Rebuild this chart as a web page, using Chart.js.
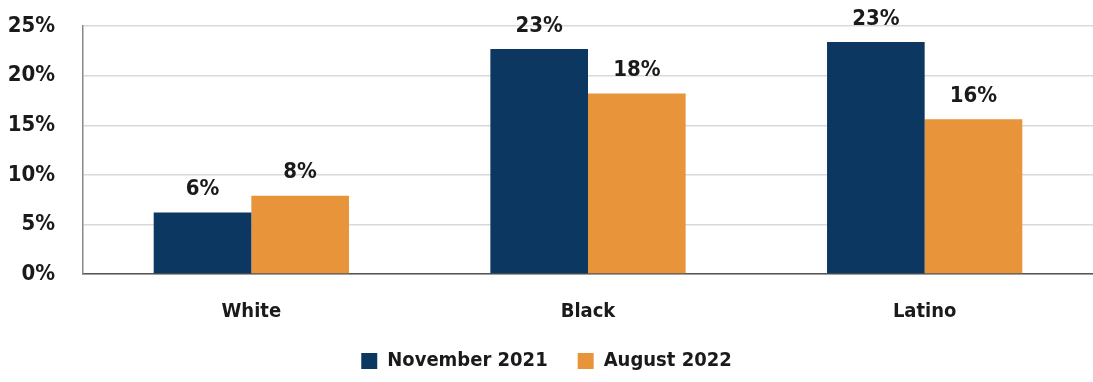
<!DOCTYPE html>
<html>
<head>
<meta charset="utf-8">
<script src="https://cdn.jsdelivr.net/npm/chart.js@4"></script>
<style>
  html, body { margin: 0; padding: 0; background: #fff; overflow: hidden; }
  /* canvas starts above the window: the y tick padding leaves an empty
     band at the top which is pushed off-screen */
  #wrap { position: absolute; left: 0; top: -15px; width: 1093px; height: 396px; }
</style>
</head>
<body>
<div id="wrap"><canvas id="barChart"></canvas></div>
<script>
const categories = ['White', 'Black', 'Latino'];
const nov2021 = [6.2, 22.7, 23.4];
const aug2022 = [7.9, 18.2, 15.6];
const tickValues = [0, 5, 10, 15, 20, 25];

const FONT = '"Liberation Sans Narrow", "DejaVu Sans Condensed", "Roboto", sans-serif';

// draws rounded % above each bar
const barLabels = {
    id: 'barLabels',
    afterDatasetsDraw(chart) {
        const ctx = chart.ctx;
        ctx.save();
        ctx.font = 'bold 22px ' + FONT;
        ctx.fillStyle = '#1a1a1a';
        ctx.textAlign = 'center';
        ctx.textBaseline = 'bottom';
        chart.data.datasets.forEach((ds, i) => {
            chart.getDatasetMeta(i).data.forEach((bar, j) => {
                ctx.fillText(Math.round(ds.data[j]) + '%', bar.x, bar.y - 12);
            });
        });
        ctx.restore();
    }
};

const data = {
    labels: categories,
    datasets: [{
        label: 'November 2021',
        backgroundColor: '#0b3761',
        data: nov2021,
    }, {
        label: 'August 2022',
        backgroundColor: '#e8943a',
        data: aug2022,
    }]
};

const config = {
    type: 'bar',
    data: data,
    options: {
        responsive: true,
        maintainAspectRatio: false,
        animation: false,
        layout: { padding: 0 },
        categoryPercentage: 0.58,
        barPercentage: 1.0,
        scales: {
            x: {
                grid: { display: false },
                border: { color: '#555', width: 1.5 },
                afterFit: (axis) => { axis.height = 47; },
                ticks: {
                    color: '#1a1a1a',
                    font: { family: FONT, size: 20, weight: 'bold' },
                    padding: 18,
                },
            },
            y: {
                min: 0,
                max: 25,
                afterBuildTicks: (axis) => { axis.ticks = tickValues.map(v => ({ value: v })); },
                afterFit: (axis) => { axis.width = 83; },
                grid: { color: '#d9d9d9', lineWidth: 1.5, drawTicks: false },
                border: { color: '#888', width: 1.5 },
                ticks: {
                    color: '#1a1a1a',
                    font: { family: FONT, size: 22, weight: 'bold' },
                    padding: 28,
                    callback: (v) => v + '%',
                },
            }
        },
        plugins: {
            legend: {
                position: 'bottom',
                labels: {
                    color: '#1a1a1a',
                    font: { family: FONT, size: 20, weight: 'bold' },
                    boxWidth: 16,
                    boxHeight: 16,
                    padding: 30,
                },
            },
            tooltip: { enabled: false },
        },
    },
    plugins: [barLabels],
};

const ctx = document.getElementById('barChart').getContext('2d');
const chart = new Chart(ctx, config);
</script>
</body>
</html>
